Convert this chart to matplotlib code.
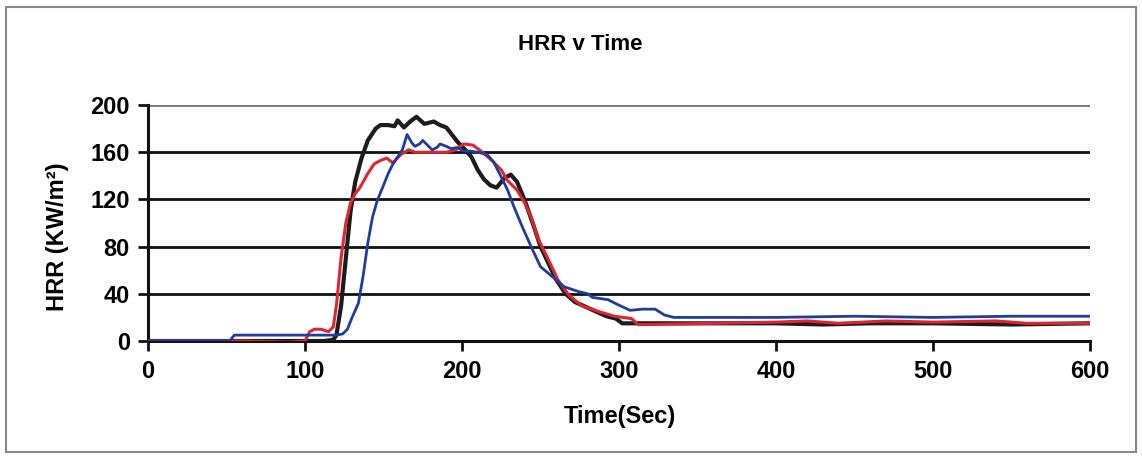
import matplotlib.pyplot as plt
from matplotlib.patches import Rectangle

plt.rcParams['font.family'] = ['Liberation Sans', 'DejaVu Sans']
plt.rcParams['font.weight'] = 'bold'

# test 1 (black)
t_black = [0, 50, 100, 112, 118, 120, 123, 126, 129, 132, 136, 140, 145, 148, 153,
           157, 159, 163, 167, 171, 176, 182, 186, 190, 197, 202, 206, 210, 214, 218,
           222, 227, 231, 235, 240, 245, 250, 255, 260, 266, 272, 277, 282, 287, 292,
           298, 302, 310, 350, 400, 430, 460, 500, 550, 600]
hrr_black = [0, 0, 0, 0, 1, 5, 30, 70, 110, 135, 155, 170, 180, 183, 183,
             182, 187, 181, 186, 190, 184, 186, 183, 181, 169, 162, 156, 145, 137, 132,
             130, 138, 141, 135, 119, 100, 80, 66, 52, 40, 33, 30, 27, 24, 21,
             19, 15, 15, 15, 15, 14, 15, 15, 14, 15]

# test 2 (red)
t_red = [0, 60, 90, 100, 103, 106, 110, 115, 118, 120, 123, 126, 129, 132, 135,
         140, 144, 148, 152, 156, 161, 166, 170, 180, 190, 196, 201, 207, 213, 219,
         225, 229, 235, 240, 244, 248, 255, 261, 268, 276, 287, 297, 308, 312, 320,
         360, 400, 420, 440, 470, 500, 540, 560, 600]
hrr_red = [0, 0, -1, 0, 8, 10, 10, 8, 12, 30, 71, 100, 117, 125, 130,
           142, 150, 153, 155, 151, 158, 162, 160, 160, 160, 162, 167, 166, 160, 153,
           145, 136, 128, 117, 105, 88, 69, 52, 39, 30, 25, 21, 19, 14, 14,
           15, 16, 17, 15, 17, 16, 17, 15, 15]

# test 3 (blue)
t_blue = [0, 52, 55, 100, 110, 120, 124, 127, 130, 134, 137, 140, 143, 146, 150,
          153, 156, 159, 162, 165, 168, 170, 173, 175, 178, 181, 184, 186, 190, 193,
          197, 201, 205, 210, 216, 220, 225, 229, 233, 238, 244, 250, 258, 265, 274,
          280, 283, 293, 299, 307, 315, 323, 329, 335, 400, 450, 500, 550, 600]
hrr_blue = [0, 0, 5, 5, 5, 5, 6, 10, 20, 32, 55, 83, 105, 119, 132,
            142, 150, 156, 162, 175, 168, 165, 167, 170, 166, 162, 164, 167, 165, 163,
            164, 161, 161, 160, 158, 152, 139, 128, 114, 98, 80, 63, 54, 46, 42,
            40, 37, 35, 31, 26, 27, 27, 22, 20, 20, 21, 20, 21, 21]

x_ticks = [0, 100, 200, 300, 400, 500, 600]
y_ticks = [0, 40, 80, 120, 160, 200]

fig = plt.figure(figsize=(11.42, 4.57), dpi=100)
ax = fig.add_axes([0.1296, 0.2538, 0.8249, 0.5164])

for yv in y_ticks[1:]:
    ax.axhline(yv, color='#111111' if yv < 200 else '#777777', lw=2.0, zorder=1)

ax.plot(t_black, hrr_black, color='#1c1c1c', lw=3.0, zorder=3)
ax.plot(t_red, hrr_red, color='#e02430', lw=2.2, zorder=4)
ax.plot(t_blue, hrr_blue, color='#1f3c9e', lw=2.0, zorder=5)

ax.set_xlim(0, 600)
ax.set_ylim(0, 200)
ax.set_xticks(x_ticks)
ax.set_yticks(y_ticks)
ax.tick_params(axis='both', direction='out', length=7, width=2, labelsize=17,
               color='#111111')
ax.tick_params(axis='x', pad=7)
ax.tick_params(axis='y', pad=6)

for side in ['top', 'right']:
    ax.spines[side].set_visible(False)
for side in ['left', 'bottom']:
    ax.spines[side].set_linewidth(2.2)
    ax.spines[side].set_color('#111111')

fig.text(580 / 1142, 1 - 45 / 457, 'HRR v Time', fontsize=16, fontweight='bold',
         ha='center', va='center')
ax.set_xlabel('Time(Sec)', fontsize=17, fontweight='bold')
ax.xaxis.set_label_coords(0.501, -0.27)
ax.set_ylabel('HRR (KW/m²)', fontsize=17, fontweight='bold')
ax.yaxis.set_label_coords(-0.084, 0.44)

fig.patches.append(Rectangle((0.005, 0.01), 0.99, 0.975, transform=fig.transFigure,
                             fill=False, edgecolor='#888888', lw=1.5))

fig.savefig('out.png', dpi=100)
